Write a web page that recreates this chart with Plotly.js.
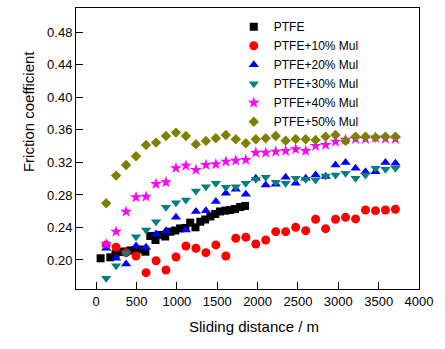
<!DOCTYPE html>
<html>
<head>
<meta charset="utf-8">
<script src="https://cdn.plot.ly/plotly-3.0.1.min.js"></script>
<style>html,body{margin:0;padding:0;background:#fff;}#chart{width:445px;height:349px;}</style>
</head>
<body>
<div id="chart"></div>
<script>
// Sliding distance (m) for PTFE (denser sampling)
var xPTFE = [55, 175, 240, 300, 360, 425, 485, 550, 610, 670, 735, 795, 855, 920, 980, 1040, 1105, 1165, 1230, 1290, 1350, 1415, 1475, 1535, 1600, 1660, 1720, 1785, 1845];
var yPTFE = [0.2021, 0.2033, 0.2074, 0.2098, 0.2105, 0.2117, 0.2123, 0.2129, 0.2102, 0.2295, 0.2246, 0.2308, 0.2289, 0.2348, 0.2363, 0.2388, 0.2394, 0.2459, 0.2402, 0.2471, 0.2498, 0.2535, 0.2566, 0.2597, 0.2607, 0.2615, 0.2628, 0.2652, 0.2665];

// Sliding distance (m) for composites
var xMul = [124, 247, 371, 494, 618, 742, 865, 989, 1112, 1236, 1360, 1483, 1607, 1730, 1854, 1978, 2101, 2225, 2348, 2472, 2596, 2719, 2843, 2966, 3090, 3214, 3337, 3461, 3584, 3708];
var yMul10 = [0.2185, 0.2156, 0.2090, 0.2049, 0.1844, 0.1991, 0.1877, 0.2037, 0.2172, 0.2144, 0.2090, 0.2185, 0.2049, 0.2267, 0.2279, 0.2197, 0.2246, 0.2348, 0.2348, 0.2402, 0.2361, 0.2501, 0.2385, 0.2501, 0.2525, 0.2505, 0.2615, 0.2607, 0.2615, 0.2624];
var yMul20 = [0.2144, 0.2021, 0.1951, 0.2172, 0.2156, 0.2320, 0.2360, 0.2525, 0.2369, 0.2595, 0.2607, 0.2718, 0.2821, 0.2870, 0.2809, 0.3006, 0.2923, 0.2932, 0.3018, 0.2944, 0.3006, 0.3046, 0.3026, 0.3169, 0.3198, 0.3129, 0.3087, 0.3087, 0.3198, 0.3190];
var yMul30 = [0.1775, 0.1930, 0.2082, 0.2287, 0.2369, 0.2471, 0.2649, 0.2705, 0.2738, 0.2849, 0.2902, 0.2944, 0.2895, 0.2900, 0.2944, 0.2993, 0.3018, 0.2955, 0.2944, 0.3006, 0.2993, 0.2985, 0.3034, 0.3046, 0.3067, 0.3006, 0.3046, 0.3129, 0.3116, 0.3129];
var yMul40 = [0.2195, 0.2348, 0.2594, 0.2772, 0.2779, 0.2935, 0.2956, 0.3129, 0.3161, 0.3108, 0.3169, 0.3178, 0.3210, 0.3222, 0.3231, 0.3320, 0.3320, 0.3333, 0.3342, 0.3362, 0.3342, 0.3403, 0.3415, 0.3456, 0.3480, 0.3490, 0.3490, 0.3506, 0.3493, 0.3490];
var yMul50 = [0.2698, 0.3038, 0.3169, 0.3276, 0.3415, 0.3444, 0.3526, 0.3567, 0.3526, 0.3424, 0.3465, 0.3497, 0.3538, 0.3485, 0.3436, 0.3485, 0.3497, 0.3526, 0.3468, 0.3489, 0.3485, 0.3477, 0.3518, 0.3538, 0.3465, 0.3518, 0.3518, 0.3506, 0.3518, 0.3518];

var seriesNames = ["PTFE", "PTFE+10% Mul", "PTFE+20% Mul", "PTFE+30% Mul", "PTFE+40% Mul", "PTFE+50% Mul"];
var yTickVals = [0.20, 0.24, 0.28, 0.32, 0.36, 0.40, 0.44, 0.48];
var yTickText = ["0.20", "0.24", "0.28", "0.32", "0.36", "0.40", "0.44", "0.48"];
var xTickVals = [0, 500, 1000, 1500, 2000, 2500, 3000, 3500, 4000];

var FONT = "Arial, 'Liberation Sans', sans-serif";

function tr(x, y, name, symbol, color, size) {
  return {x: x, y: y, name: name, type: "scatter", mode: "markers",
    marker: {symbol: symbol, color: color, size: size, line: {width: 0}}};
}

var data = [
  tr(xPTFE, yPTFE, seriesNames[0], "square", "#000000", 8),
  tr(xMul, yMul10, seriesNames[1], "circle", "#FF0000", 9),
  tr(xMul, yMul20, seriesNames[2], "triangle-up", "#0000FF", 9),
  tr(xMul, yMul30, seriesNames[3], "triangle-down", "#008080", 9),
  tr(xMul, yMul40, seriesNames[4], "star", "#FF00FF", 9),
  tr(xMul, yMul50, seriesNames[5], "diamond", "#808000", 8)
];

var axisCommon = {
  showline: true, mirror: true, linecolor: "#000", linewidth: 1,
  ticks: "inside", ticklen: 7, tickwidth: 1, tickcolor: "#000",
  showgrid: false, zeroline: false,
  tickfont: {family: FONT, size: 13, color: "#000"}
};

var layout = {
  width: 445, height: 349,
  margin: {l: 76, r: 26, t: 8, b: 60},
  paper_bgcolor: "#fff", plot_bgcolor: "#fff",
  showlegend: true,
  legend: {x: 0.46, y: 0.985, xanchor: "left", yanchor: "top",
    bgcolor: "rgba(0,0,0,0)", borderwidth: 0,
    font: {family: FONT, size: 12, color: "#000"}},
  xaxis: Object.assign({}, axisCommon, {range: [-250, 4000], tickvals: xTickVals}),
  yaxis: Object.assign({}, axisCommon, {range: [0.1643, 0.51], tickvals: yTickVals, ticktext: yTickText}),
  annotations: [
    {text: "Sliding distance / m", xref: "paper", yref: "paper", x: 0.519, y: -0.135,
     xanchor: "center", yanchor: "middle", showarrow: false,
     font: {family: FONT, size: 15, color: "#000"}},
    {text: "Friction coefficient", xref: "paper", yref: "paper", x: -0.14, y: 0.633,
     xanchor: "center", yanchor: "middle", showarrow: false, textangle: -90,
     font: {family: FONT, size: 15, color: "#000"}}
  ]
};

Plotly.newPlot("chart", data, layout, {staticPlot: true, displayModeBar: false});
</script>
</body>
</html>
